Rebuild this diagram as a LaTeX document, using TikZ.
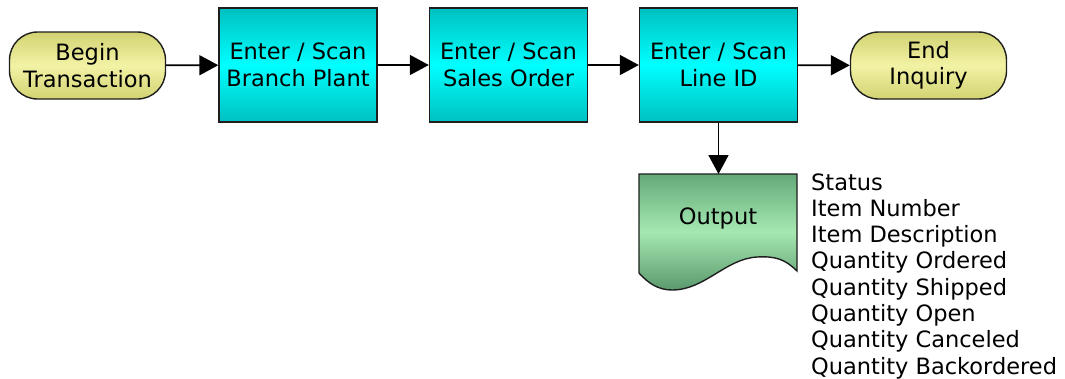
\documentclass[tikz,border=0pt]{standalone}
\usepackage{fontspec}
\setmainfont{DejaVu Sans}
\usetikzlibrary{arrows.meta}
\definecolor{cyanmid}{RGB}{0,255,255}
\definecolor{cyanedge}{RGB}{0,192,192}
\definecolor{yelmid}{RGB}{242,242,165}
\definecolor{yeledge}{RGB}{210,210,115}
\definecolor{grnmid}{RGB}{165,232,178}
\definecolor{grnedge}{RGB}{100,170,120}
\definecolor{bordercol}{RGB}{30,30,30}
\begin{document}
\begin{tikzpicture}[x=1pt,y=-1pt,
  lbl/.style={font=\fontsize{22.5}{26.5}\selectfont, align=center, text=black},
  proc/.style={lbl, draw=bordercol, line width=1.4pt, minimum width=158pt, minimum height=114pt,
    inner sep=0pt, top color=cyanedge, bottom color=cyanedge, middle color=cyanmid},
  term/.style={lbl, draw=bordercol, line width=1.4pt, minimum width=156pt, minimum height=67pt,
    inner sep=0pt, rounded corners=28pt, top color=yeledge, bottom color=yeledge, middle color=yelmid},
  docshape/.style={draw=bordercol, line width=1.4pt, top color=grnedge, bottom color=grnedge!90!black, middle color=grnmid},
  arr/.style={line width=1.8pt, -{Triangle[length=19pt,width=20pt]}},
  field/.style={font=\fontsize{22.5}{26.5}\selectfont, anchor=base west, inner sep=0pt, text=black}]
\useasboundingbox (0,0) rectangle (1065,378);

\node[term] (begin) at (87.5,65.5) {Begin\\Transaction};
\node[proc] (bp) at (298,65) {Enter / Scan\\Branch Plant};
\node[proc] (so) at (508.5,65) {Enter / Scan\\Sales Order};
\node[proc] (li) at (718.5,65) {Enter / Scan\\Line ID};
\node[term] (end) at (928.5,65.5) {End\\Inquiry};

\draw[docshape] (639,174) -- (797,174) -- (797,271)
  .. controls (785,259) and (775,256) .. (757,257)
  .. controls (725,259) and (705,290) .. (672,290)
  .. controls (658,290) and (648,283) .. (639,273) -- cycle;
\coordinate (outtop) at (718.5,174);
\node[lbl] (output) at (718,218) {Output};

\draw[arr] (begin) -- (bp);
\draw[arr] (bp) -- (so);
\draw[arr] (so) -- (li);
\draw[arr] (li) -- (end);
\draw[arr] (li.south) -- (outtop);

\foreach \t [count=\i from 0] in {Status,Item Number,Item Description,Quantity Ordered,Quantity Shipped,Quantity Open,Quantity Canceled,Quantity Backordered}
  \node[field] (f\i) at (811,{190+26.3*\i}) {\t};
\end{tikzpicture}
\end{document}
